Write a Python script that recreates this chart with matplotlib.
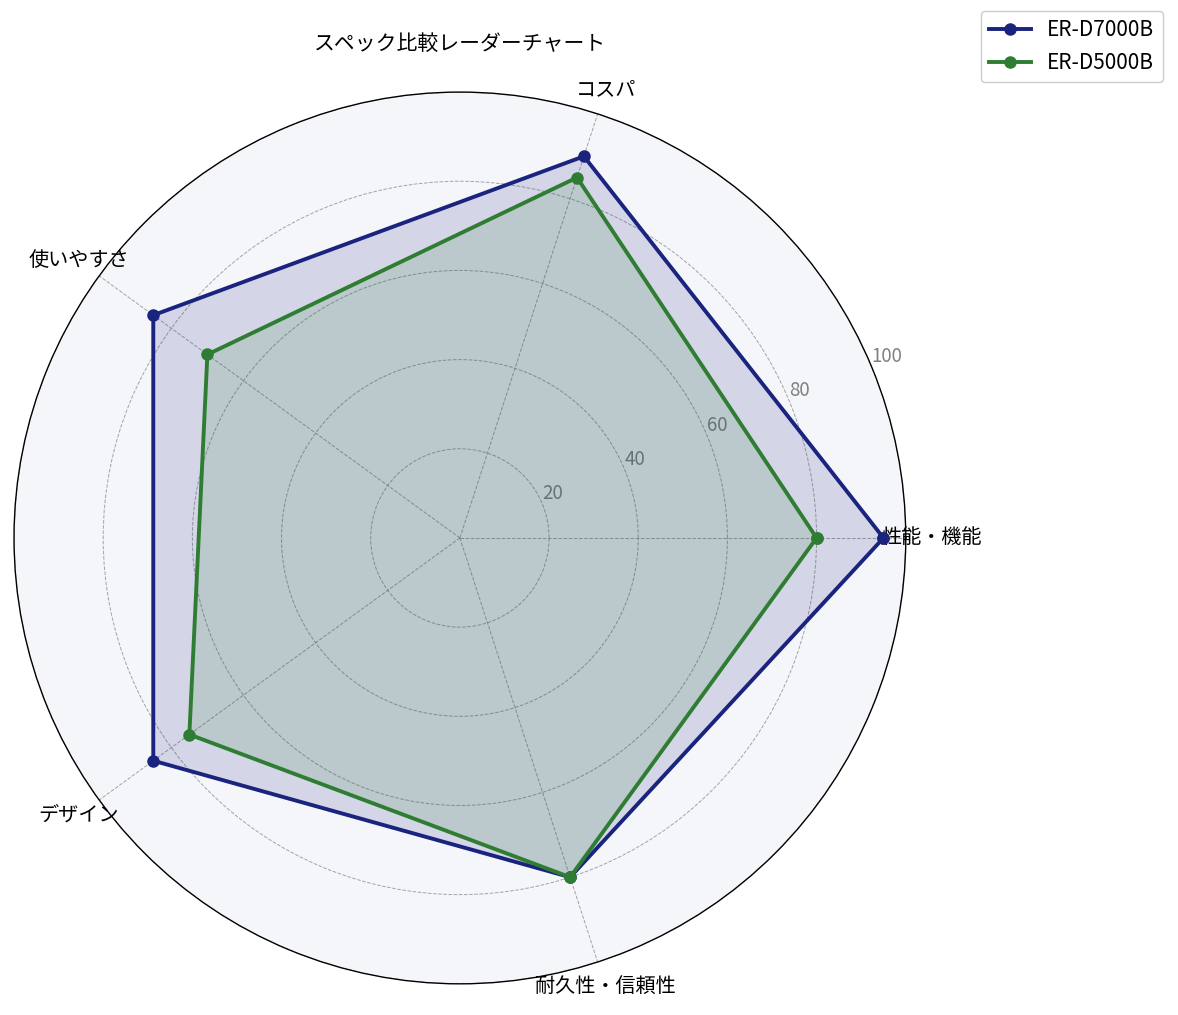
import matplotlib
matplotlib.use('agg')
import matplotlib.pyplot as plt
import numpy as np

plt.rcParams['font.family'] = ['Noto Sans CJK JP', 'DejaVu Sans']

CATEGORIES = ["性能・機能", "コスパ", "使いやすさ", "デザイン", "耐久性・信頼性"]
SERIES_NAMES = ["ER-D7000B", "ER-D5000B"]
ER_D7000B = [95, 90, 85, 85, 80]
ER_D5000B = [80, 85, 70, 75, 80]
R_TICKS = [20, 40, 60, 80, 100]

COLORS = ['#1a237e', '#2e7d32']


def main():
    fig = plt.figure(figsize=(11.78, 10.15), dpi=100)
    ax = fig.add_axes([0.0119, 0.0305, 0.757, 0.879], polar=True)
    ax.set_facecolor('#f5f6fa')

    n = len(CATEGORIES)
    angles = np.linspace(0, 2 * np.pi, n, endpoint=False)
    closed = np.concatenate([angles, angles[:1]])

    for name, vals, col in zip(SERIES_NAMES, [ER_D7000B, ER_D5000B], COLORS):
        v = list(vals) + [vals[0]]
        ax.plot(closed, v, color=col, linewidth=2.8, marker='o',
                markersize=8, label=name, zorder=3)
        ax.fill(closed, v, color=col, alpha=0.15, zorder=2)

    ax.set_ylim(0, 100)
    ax.set_xticks(angles)
    ax.set_xticklabels(CATEGORIES, fontsize=14.5)
    ax.tick_params(axis='x', pad=8)
    ax.set_yticks(R_TICKS)
    ax.set_yticklabels([str(t) for t in R_TICKS], fontsize=13.5, color='gray')
    ax.set_rlabel_position(22.5)
    ax.grid(True, color='gray', linestyle='--', linewidth=0.7, alpha=0.7)
    ax.spines['polar'].set_color('black')
    ax.spines['polar'].set_linewidth(1.0)

    ax.set_title("スペック比較レーダーチャート", fontsize=15, pad=30)

    fig.legend(loc='upper right', bbox_to_anchor=(0.987, 0.989),
               borderaxespad=0, fontsize=15, framealpha=1,
               edgecolor='#cccccc')

    fig.savefig('out.png', dpi=100)


if __name__ == '__main__':
    main()
